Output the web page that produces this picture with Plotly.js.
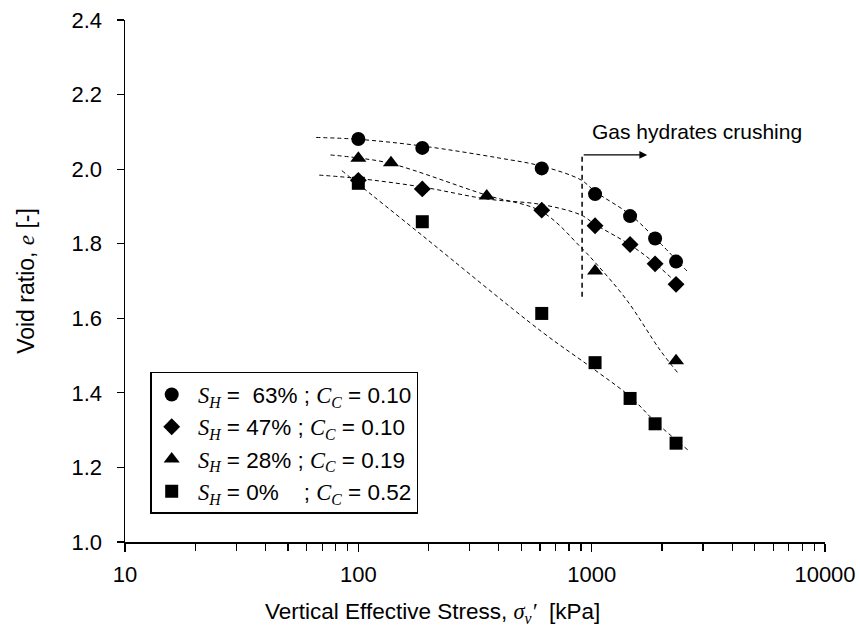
<!DOCTYPE html>
<html>
<head>
<meta charset="utf-8">
<script src="https://cdn.plot.ly/plotly-3.0.1.min.js"></script>
<style>html,body{margin:0;padding:0;background:#fff;}#chart{width:860px;height:631px;}</style>
</head>
<body>
<div id="chart"></div>
<script>
// Measured points
var stress = [100, 188, 611, 1034, 1461, 1870, 2300];
var e63 = [2.081, 2.057, 2.002, 1.933, 1.874, 1.814, 1.752];
var e47 = [1.970, 1.947, 1.890, 1.848, 1.798, 1.746, 1.691];
var stress28 = [100, 138, 355, 1034, 2300];
var e28 = [2.029, 2.017, 1.928, 1.727, 1.486];
var e0 = [1.962, 1.859, 1.613, 1.481, 1.385, 1.317, 1.265];

// Fitted dashed curves
var fit63X = [66, 100, 188, 400, 611, 900, 1034, 1461, 1870, 2560];
var fit63Y = [2.085, 2.080, 2.062, 2.030, 2.008, 1.971, 1.940, 1.878, 1.815, 1.727];
var fit47X = [68, 100, 188, 355, 611, 900, 1034, 1461, 1870, 2450];
var fit47Y = [1.984, 1.975, 1.952, 1.920, 1.905, 1.877, 1.852, 1.797, 1.747, 1.680];
var fit28X = [76, 100, 138, 355, 611, 900, 1034, 1413, 1963, 2330];
var fit28Y = [2.038, 2.030, 2.015, 1.930, 1.886, 1.790, 1.750, 1.649, 1.515, 1.455];
var fit0X = [85, 100, 188, 611, 1034, 1461, 1870, 2640];
var fit0Y = [1.996, 1.960, 1.822, 1.564, 1.461, 1.390, 1.323, 1.242];

// Axis ticks
var xMajorTicks = [10, 100, 1000, 10000];
var xMinorTicks = [20, 30, 40, 50, 60, 70, 80, 90, 200, 300, 400, 500, 600, 700, 800, 900,
                   2000, 3000, 4000, 5000, 6000, 7000, 8000, 9000];

var SERIF = 'font-family:Liberation Serif,Times New Roman,serif';
function sym(s, sub) {
  return '<span style="' + SERIF + '"><i>' + s + '<sub>' + sub + '</sub></i></span>';
}
var names = [
  '\u00a0' + sym('S', 'H') + ' =\u00a0 63% ; ' + sym('C', 'C') + ' = 0.10',
  '\u00a0' + sym('S', 'H') + ' = 47% ; ' + sym('C', 'C') + ' = 0.10',
  '\u00a0' + sym('S', 'H') + ' = 28% ; ' + sym('C', 'C') + ' = 0.19',
  '\u00a0' + sym('S', 'H') + ' = 0%\u00a0\u00a0\u00a0 ; ' + sym('C', 'C') + ' = 0.52'
];

function fit(x, y) {
  return {x: x, y: y, mode: 'lines', type: 'scatter', showlegend: false, hoverinfo: 'skip',
    line: {color: '#000', width: 1, dash: '4px,3px', shape: 'spline', smoothing: 1}};
}
function pts(x, y, symbol, size, name, g) {
  return {x: x, y: y, mode: 'markers', type: 'scatter', name: name, legendgroup: g,
    marker: {symbol: symbol, size: size, color: '#000'}};
}

var data = [
  fit(fit63X, fit63Y), fit(fit47X, fit47Y), fit(fit28X, fit28Y), fit(fit0X, fit0Y),
  pts(stress, e63, 'circle', 14, names[0], 'a'),
  pts(stress, e47, 'diamond', 13, names[1], 'b'),
  pts(stress28, e28, 'triangle-up', 14, names[2], 'c'),
  pts(stress, e0, 'square', 13, names[3], 'd')
];

var layout = {
  width: 860, height: 631,
  margin: {l: 125, r: 35, t: 20, b: 89},
  paper_bgcolor: '#fff', plot_bgcolor: '#fff',
  font: {family: 'Liberation Sans, Arial, sans-serif', size: 21, color: '#000'},
  showlegend: true,
  legend: {
    x: 0.036, y: 0.326, xanchor: 'left', yanchor: 'top',
    bordercolor: '#000', borderwidth: 1.5, bgcolor: '#fff',
    font: {size: 22.5}, tracegroupgap: 19, traceorder: 'normal'
  },
  xaxis: {
    type: 'log', range: [1, 4],
    tickmode: 'array', tickvals: xMajorTicks, ticktext: xMajorTicks.map(String),
    ticks: 'outside', ticklen: 8, tickwidth: 1.2, tickcolor: '#000',
    minor: {tickmode: 'array', tickvals: xMinorTicks, ticks: 'outside', ticklen: 7, tickwidth: 1.2, tickcolor: '#000', showgrid: false},
    showline: true, linecolor: '#000', linewidth: 1.5,
    showgrid: false, zeroline: false,
    tickfont: {size: 22}, ticklabelstandoff: 4
  },
  yaxis: {
    range: [1.0, 2.4], dtick: 0.2, tick0: 1.0, tickformat: '.1f',
    ticks: 'outside', ticklen: 7, tickwidth: 1.2, tickcolor: '#000',
    showline: true, linecolor: '#000', linewidth: 1.5,
    showgrid: false, zeroline: false,
    tickfont: {size: 22}, ticklabelstandoff: 10,
    title: {text: 'Void ratio, <span style="' + SERIF + '"><i>e</i></span> [-]', font: {size: 23}, standoff: 30}
  },
  shapes: [
    {type: 'line', xref: 'paper', yref: 'y', x0: 0.653, x1: 0.653, y0: 2.033, y1: 1.654,
     line: {color: '#000', width: 1.5, dash: '5px,4px'}}
  ],
  annotations: [
    {xref: 'paper', yref: 'paper', x: 0.4386, y: -0.136, xanchor: 'center', yanchor: 'middle',
     text: 'Vertical Effective Stress, <span style="' + SERIF + '"><i>σ<sub>v</sub>′</i></span>\u00a0 [kPa]',
     showarrow: false, font: {size: 22.5}},
    {xref: 'paper', yref: 'y', x: 0.664, y: 2.100, xanchor: 'left', yanchor: 'middle',
     text: 'Gas hydrates crushing', showarrow: false, font: {size: 21}},
    {xref: 'paper', yref: 'y', x: 0.746, y: 2.038, text: '', showarrow: true,
     arrowhead: 2, arrowsize: 1.2, arrowwidth: 1.3, arrowcolor: '#000', ax: -65, ay: 0}
  ]
};

Plotly.newPlot('chart', data, layout, {displayModeBar: false, staticPlot: true});
</script>
</body>
</html>
